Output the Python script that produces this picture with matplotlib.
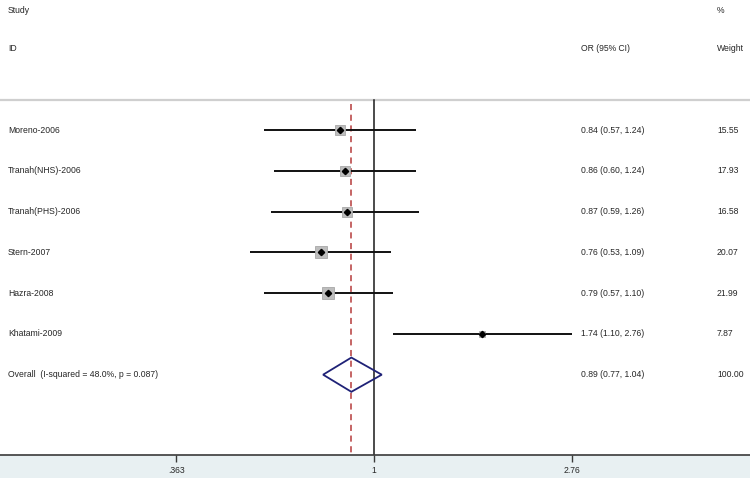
import numpy as np
import matplotlib
matplotlib.use("Agg")
import matplotlib.pyplot as plt
from matplotlib.patches import Polygon
import matplotlib.transforms as mtransforms

# ---- data ----
studies = ["Moreno-2006", "Tranah(NHS)-2006", "Tranah(PHS)-2006",
           "Stern-2007", "Hazra-2008", "Khatami-2009"]
or_vals = [0.84, 0.86, 0.87, 0.76, 0.79, 1.74]
ci_low = [0.57, 0.60, 0.59, 0.53, 0.57, 1.10]
ci_high = [1.24, 1.24, 1.26, 1.09, 1.10, 2.76]
weights = [15.55, 17.93, 16.58, 20.07, 21.99, 7.87]
or_text = ["0.84 (0.57, 1.24)", "0.86 (0.60, 1.24)", "0.87 (0.59, 1.26)",
           "0.76 (0.53, 1.09)", "0.79 (0.57, 1.10)", "1.74 (1.10, 2.76)"]
weight_text = ["15.55", "17.93", "16.58", "20.07", "21.99", "7.87"]
overall_label = "Overall  (I-squared = 48.0%, p = 0.087)"
overall_or = 0.89
overall_low = 0.77
overall_high = 1.04
overall_text = "0.89 (0.77, 1.04)"
overall_weight = "100.00"
tick_vals = [0.363, 1, 2.76]
tick_labels = [".363", "1", "2.76"]

plt.rcParams['font.family'] = ['Liberation Sans', 'DejaVu Sans']
FS = 6.2
TXT = "#262626"

fig = plt.figure(figsize=(7.5, 4.78), dpi=100)
fig.patch.set_facecolor("#e8f0f2")
ax = fig.add_axes([0, 23 / 478, 1, 455 / 478])
ax.set_facecolor("white")

ax.set_xscale("log")
ax.set_xlim(0.1471, 6.86)
ax.set_ylim(7.97, -3.19)

for s in ["top", "left", "right"]:
    ax.spines[s].set_visible(False)
ax.spines["bottom"].set_color("#3a3a3a")
ax.spines["bottom"].set_linewidth(1.2)
ax.set_yticks([])
ax.set_xticks(tick_vals)
ax.set_xticklabels(tick_labels)
ax.xaxis.set_minor_locator(matplotlib.ticker.NullLocator())
ax.tick_params(axis="x", direction="out", length=5, width=1.0, color="#3a3a3a",
               labelsize=FS, labelcolor=TXT, pad=3)

sep_y = -0.735
trans = mtransforms.blended_transform_factory(ax.transAxes, ax.transData)

# header separator
ax.plot([0, 1], [sep_y, sep_y], transform=trans, color="#cfcfcf", lw=1.6, clip_on=False)

# null line and overall dashed line
ax.plot([1, 1], [sep_y, 7.97], color="#1a1a1a", lw=1.1, zorder=2)
ax.plot([overall_or, overall_or], [sep_y + 0.1, 7.97], color="#b53a3a", lw=1.1,
        dashes=(4, 3), zorder=2)

rows = np.arange(len(studies))
for i in rows:
    ax.plot([ci_low[i], ci_high[i]], [i, i], color="#111111", lw=1.4, zorder=3,
            solid_capstyle="butt")
    ms = 8.0 * np.sqrt(weights[i] / 20.0)
    ax.plot(or_vals[i], i, marker="s", ms=ms, mfc="#bdbdbd", mec="#a8a8a8",
            mew=0.6, zorder=4)
    ax.plot(or_vals[i], i, marker="D", ms=3.2, mfc="black", mec="black", zorder=5)

# overall diamond
yo = len(studies)
h = 0.42
diamond = Polygon([(overall_low, yo), (overall_or, yo - h), (overall_high, yo),
                   (overall_or, yo + h)], closed=True, fill=False,
                  edgecolor="#1f2277", lw=1.3, zorder=6)
ax.add_patch(diamond)

# text columns
x_lab, x_or, x_w = 8 / 750, 581 / 750, 717 / 750
ax.text(x_lab, -2.94, "Study", transform=trans, fontsize=FS, color=TXT, va="center")
ax.text(x_lab, -1.99, "ID", transform=trans, fontsize=FS, color=TXT, va="center")
ax.text(x_or, -1.99, "OR (95% CI)", transform=trans, fontsize=FS, color=TXT, va="center")
ax.text(x_w, -2.94, "%", transform=trans, fontsize=FS, color=TXT, va="center")
ax.text(x_w, -1.99, "Weight", transform=trans, fontsize=FS, color=TXT, va="center")

for i in rows:
    ax.text(x_lab, i, studies[i], transform=trans, fontsize=FS, color=TXT, va="center")
    ax.text(x_or, i, or_text[i], transform=trans, fontsize=FS, color=TXT, va="center")
    ax.text(x_w, i, weight_text[i], transform=trans, fontsize=FS, color=TXT, va="center")

ax.text(x_lab, yo, overall_label, transform=trans, fontsize=FS, color=TXT, va="center")
ax.text(x_or, yo, overall_text, transform=trans, fontsize=FS, color=TXT, va="center")
ax.text(x_w, yo, overall_weight, transform=trans, fontsize=FS, color=TXT, va="center")

fig.savefig("out.png", dpi=100, facecolor=fig.get_facecolor())
